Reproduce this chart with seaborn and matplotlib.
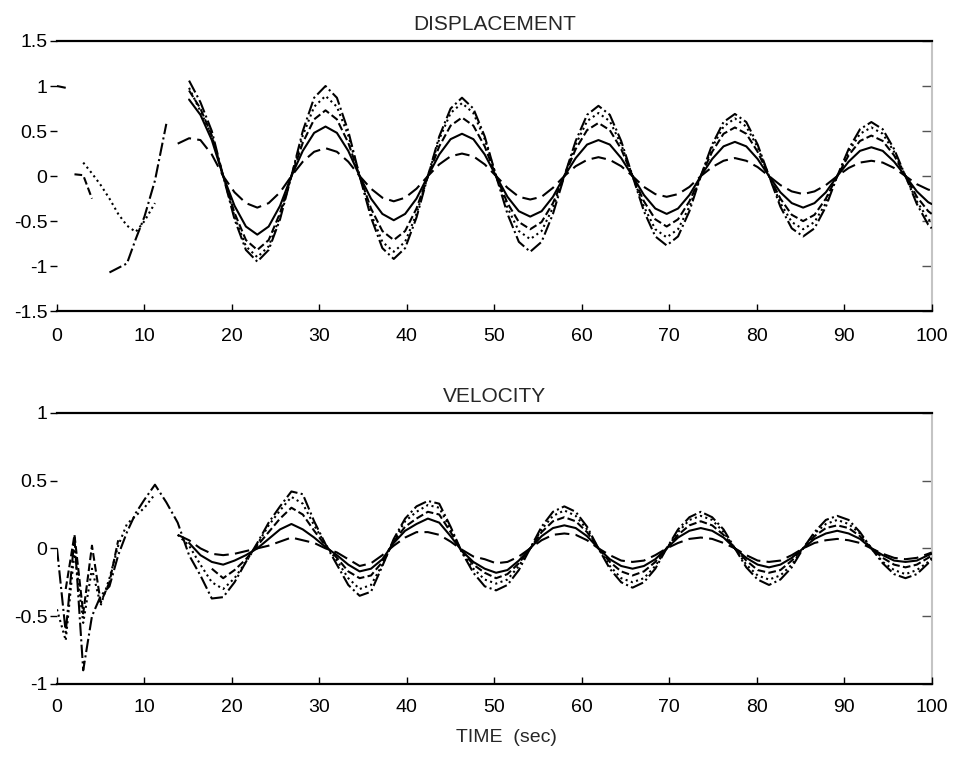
import numpy as np
import pandas as pd
import matplotlib
matplotlib.use('Agg')
import matplotlib.pyplot as plt
import seaborn as sns

nan = np.nan

# sample times (sec), shared by both panels
time = [0, 1, 2, 3, 4, 5, 6, 7, 8, 9, 10, 11.2, 12.5, 13.8, 15.1, 16.4, 17.7,
        19.0, 20.3, 21.6, 22.9, 24.2, 25.5,
        26.8, 28.1, 29.4, 30.7, 32.0, 33.3,
        34.6, 35.9, 37.2, 38.5, 39.8, 41.1,
        42.4, 43.7, 45.0, 46.3, 47.6, 48.9,
        50.2, 51.5, 52.8, 54.1, 55.4, 56.7,
        58.0, 59.3, 60.6, 61.9, 63.2, 64.5,
        65.8, 67.1, 68.4, 69.7, 71.0, 72.3,
        73.6, 74.9, 76.2, 77.5, 78.8, 80.1,
        81.4, 82.7, 84.0, 85.3, 86.6, 87.9,
        89.2, 90.5, 91.8, 93.1, 94.4, 95.7,
        97.0, 98.3, 99.6, 100.0]

# displacement, five curves (largest amplitude first)
disp_a = [1.0, 0.98, nan, nan, nan, nan, -1.07, -1.02, -0.97, -0.70, -0.45, -0.05, 0.58, nan, 1.06, 0.82, 0.50,
          0, -0.48, -0.82, -0.95, -0.82, -0.48,
          0, 0.50, 0.87, 1.00, 0.87, 0.50,
          0, -0.46, -0.80, -0.92, -0.80, -0.46,
          0, 0.44, 0.75, 0.87, 0.75, 0.44,
          0, -0.42, -0.73, -0.84, -0.73, -0.42,
          0, 0.39, 0.68, 0.78, 0.68, 0.39,
          0, -0.39, -0.67, -0.77, -0.67, -0.39,
          0, 0.35, 0.60, 0.69, 0.60, 0.35,
          0, -0.34, -0.58, -0.67, -0.58, -0.34,
          0, 0.30, 0.52, 0.60, 0.52, 0.30,
          0, -0.31, -0.54, -0.58]
disp_b = [nan, nan, nan, 0.15, 0.03, -0.10, -0.25, -0.42, -0.55, -0.62, -0.50, -0.30, nan, nan, 0.98, 0.72, 0.45,
          0, -0.45, -0.78, -0.90, -0.78, -0.45,
          0, 0.45, 0.77, 0.89, 0.77, 0.45,
          0, -0.42, -0.73, -0.84, -0.73, -0.42,
          0, 0.41, 0.70, 0.81, 0.70, 0.41,
          0, -0.35, -0.61, -0.70, -0.61, -0.35,
          0, 0.35, 0.61, 0.70, 0.61, 0.35,
          0, -0.34, -0.59, -0.68, -0.59, -0.34,
          0, 0.32, 0.55, 0.64, 0.55, 0.32,
          0, -0.30, -0.51, -0.59, -0.51, -0.30,
          0, 0.27, 0.47, 0.54, 0.47, 0.27,
          0, -0.28, -0.48, -0.51]
disp_c = [nan, nan, 0.02, 0.01, -0.25, nan, nan, nan, nan, nan, nan, nan, nan, nan, 0.95, 0.75, 0.45,
          0, -0.41, -0.71, -0.82, -0.71, -0.41,
          0, 0.37, 0.63, 0.73, 0.63, 0.37,
          0, -0.36, -0.61, -0.71, -0.61, -0.36,
          0, 0.33, 0.56, 0.65, 0.56, 0.33,
          0, -0.30, -0.51, -0.59, -0.51, -0.30,
          0, 0.30, 0.51, 0.59, 0.51, 0.30,
          0, -0.28, -0.48, -0.56, -0.48, -0.28,
          0, 0.27, 0.47, 0.54, 0.47, 0.27,
          0, -0.25, -0.43, -0.50, -0.43, -0.25,
          0, 0.23, 0.39, 0.45, 0.39, 0.23,
          0, -0.23, -0.39, -0.42]
disp_d = [nan, nan, nan, nan, nan, nan, nan, nan, nan, nan, nan, nan, nan, nan, 0.85, 0.68, 0.40,
          0, -0.33, -0.56, -0.65, -0.56, -0.33,
          0, 0.28, 0.48, 0.55, 0.48, 0.28,
          0, -0.25, -0.42, -0.49, -0.42, -0.25,
          0, 0.24, 0.41, 0.47, 0.41, 0.24,
          0, -0.23, -0.39, -0.45, -0.39, -0.23,
          0, 0.20, 0.35, 0.40, 0.35, 0.20,
          0, -0.21, -0.36, -0.42, -0.36, -0.21,
          0, 0.19, 0.33, 0.38, 0.33, 0.19,
          0, -0.18, -0.30, -0.35, -0.30, -0.18,
          0, 0.16, 0.28, 0.32, 0.28, 0.16,
          0, -0.17, -0.29, -0.31]
disp_e = [nan, nan, nan, nan, nan, nan, nan, nan, nan, nan, nan, nan, nan, 0.36, 0.42, 0.40, 0.24,
          0, -0.18, -0.30, -0.35, -0.30, -0.18,
          0, 0.16, 0.27, 0.31, 0.27, 0.16,
          0, -0.14, -0.24, -0.28, -0.24, -0.14,
          0, 0.13, 0.22, 0.25, 0.22, 0.13,
          0, -0.13, -0.23, -0.26, -0.23, -0.13,
          0, 0.11, 0.18, 0.21, 0.18, 0.11,
          0, -0.12, -0.20, -0.23, -0.20, -0.12,
          0, 0.10, 0.17, 0.20, 0.17, 0.10,
          0, -0.10, -0.17, -0.20, -0.17, -0.10,
          0, 0.09, 0.15, 0.17, 0.15, 0.09,
          0, -0.09, -0.15, -0.16]

# velocity, five curves
vel_a = [0.0, -0.62, 0.08, -0.90, -0.50, -0.35, -0.28, -0.05, 0.12, 0.26, 0.36, 0.47, 0.34, 0.19, -0.05, -0.20, -0.37,
         -0.36, -0.25, -0.10, 0.04, 0.19, 0.31,
         0.42, 0.40, 0.20, 0.03, -0.12, -0.27,
         -0.35, -0.32, -0.13, 0.07, 0.22, 0.31,
         0.35, 0.33, 0.16, -0.03, -0.18, -0.28,
         -0.31, -0.27, -0.16, 0, 0.16, 0.27,
         0.31, 0.27, 0.16, 0, -0.15, -0.25,
         -0.29, -0.25, -0.15, 0, 0.14, 0.23,
         0.27, 0.23, 0.14, 0, -0.14, -0.23,
         -0.27, -0.23, -0.14, 0, 0.12, 0.21,
         0.24, 0.21, 0.12, 0, -0.11, -0.19,
         -0.22, -0.19, -0.11, -0.08]
vel_b = [-0.45, -0.68, -0.02, -0.55, -0.15, -0.42, -0.22, 0.02, 0.18, 0.24, 0.30, 0.40, nan, 0.10, 0.02, -0.12, -0.25,
         -0.30, -0.22, -0.10, 0.03, 0.17, 0.28,
         0.38, 0.33, 0.17, 0.03, -0.09, -0.22,
         -0.30, -0.27, -0.12, 0.06, 0.20, 0.27,
         0.32, 0.30, 0.14, -0.03, -0.15, -0.23,
         -0.26, -0.23, -0.13, 0, 0.14, 0.24,
         0.28, 0.24, 0.14, 0, -0.13, -0.22,
         -0.25, -0.22, -0.13, 0, 0.12, 0.21,
         0.24, 0.21, 0.12, 0, -0.12, -0.20,
         -0.23, -0.20, -0.12, 0, 0.11, 0.18,
         0.21, 0.18, 0.11, 0, -0.10, -0.16,
         -0.19, -0.16, -0.10, -0.07]
vel_c = [nan, -0.30, 0.10, -0.48, 0.02, -0.40, -0.25, 0.06, nan, nan, nan, nan, nan, nan, nan, nan, -0.15,
         -0.22, -0.16, -0.08, 0.02, 0.12, 0.22,
         0.30, 0.25, 0.13, 0.02, -0.07, -0.17,
         -0.22, -0.20, -0.10, 0.05, 0.16, 0.22,
         0.27, 0.25, 0.12, -0.02, -0.12, -0.18,
         -0.22, -0.19, -0.11, 0, 0.12, 0.20,
         0.23, 0.20, 0.12, 0, -0.10, -0.17,
         -0.20, -0.17, -0.10, 0, 0.10, 0.17,
         0.20, 0.17, 0.10, 0, -0.09, -0.16,
         -0.18, -0.16, -0.09, 0, 0.09, 0.15,
         0.17, 0.15, 0.09, 0, -0.07, -0.12,
         -0.14, -0.12, -0.07, -0.05]
vel_d = [nan, nan, nan, nan, nan, nan, nan, nan, nan, nan, nan, nan, nan, nan, 0.04, -0.05, -0.10,
         -0.12, -0.09, -0.05, 0.0, 0.07, 0.14,
         0.18, 0.14, 0.08, 0.01, -0.05, -0.12,
         -0.17, -0.15, -0.08, 0.04, 0.13, 0.18,
         0.22, 0.19, 0.09, -0.02, -0.10, -0.15,
         -0.18, -0.16, -0.09, 0, 0.09, 0.15,
         0.17, 0.15, 0.09, 0, -0.08, -0.13,
         -0.15, -0.13, -0.08, 0, 0.08, 0.13,
         0.15, 0.13, 0.08, 0, -0.07, -0.12,
         -0.14, -0.12, -0.07, 0, 0.07, 0.11,
         0.13, 0.11, 0.07, 0, -0.05, -0.09,
         -0.10, -0.09, -0.05, -0.04]
vel_e = [nan, nan, nan, nan, nan, nan, nan, nan, nan, nan, nan, nan, nan, 0.10, 0.06, 0.0, -0.04,
         -0.05, -0.04, -0.02, 0.0, 0.02, 0.05,
         0.08, 0.06, 0.04, 0.0, -0.03, -0.08,
         -0.13, -0.11, -0.05, 0.02, 0.08, 0.12,
         0.12, 0.10, 0.05, -0.01, -0.06, -0.08,
         -0.11, -0.10, -0.06, 0, 0.06, 0.10,
         0.11, 0.10, 0.06, 0, -0.05, -0.09,
         -0.10, -0.09, -0.05, 0, 0.04, 0.07,
         0.08, 0.07, 0.04, 0, -0.05, -0.09,
         -0.10, -0.09, -0.05, 0, 0.04, 0.06,
         0.07, 0.06, 0.04, 0, -0.04, -0.07,
         -0.08, -0.07, -0.04, -0.03]

x_ticks = [0, 10, 20, 30, 40, 50, 60, 70, 80, 90, 100]
disp_ticks = [1.5, 1, 0.5, 0, -0.5, -1, -1.5]
disp_labels = ['1.5', '1', '0.5', '0', '-0.5', '-1', '-1.5']
vel_ticks = [1, 0.5, 0, -0.5, -1]
vel_labels = ['1', '0.5', '0', '-0.5', '-1']
line_styles = ['-.', ':', '--', '-', (0, (7, 3))]

sns.set_theme(style='white')
plt.rcParams['font.family'] = ['Liberation Sans', 'DejaVu Sans']


def draw_panel(ax, curves, title, ylim, ticks, labels, xpad):
    for vals, ls in zip(curves, line_styles):
        df = pd.DataFrame({'t': time, 'v': vals})
        # break the line where the trace is missing
        df['seg'] = df['v'].isna().cumsum()
        df = df.dropna()
        sns.lineplot(data=df, x='t', y='v', units='seg', estimator=None,
                     color='black', lw=1.5, linestyle=ls, ax=ax)
    ax.set_xlim(0, 100)
    ax.set_ylim(*ylim)
    ax.set_xticks(x_ticks)
    ax.set_xticklabels([str(x) for x in x_ticks])
    ax.set_yticks(ticks)
    ax.set_yticklabels(labels)
    ax.set_xlabel('')
    ax.set_ylabel('')
    ax.set_title(title, fontsize=15, pad=8)
    ax.tick_params(axis='x', direction='in', length=5, width=1, pad=xpad,
                   labelsize=14, bottom=True, top=False, colors='black')
    ax.tick_params(axis='y', direction='out', length=5, width=1, pad=2,
                   labelsize=14, left=True, right=False, colors='black')
    for side in ['top', 'bottom']:
        ax.spines[side].set_color('black')
        ax.spines[side].set_linewidth(1.6)
    ax.spines['left'].set_visible(False)
    ax.spines['right'].set_visible(False)
    sec = ax.secondary_yaxis('right')
    sec.set_yticks(ticks)
    sec.tick_params(direction='in', length=7, width=1, labelright=False, colors='#555555')
    sec.spines['right'].set_color('#c4c4c4')
    sec.spines['right'].set_linewidth(1.5)


fig = plt.figure(figsize=(9.56, 7.59), dpi=100)
ax1 = fig.add_axes([0.0596, 0.590, 0.915, 0.356])
ax2 = fig.add_axes([0.0596, 0.099, 0.915, 0.357])

draw_panel(ax1, [disp_a, disp_b, disp_c, disp_d, disp_e], 'DISPLACEMENT',
           (-1.5, 1.5), disp_ticks, disp_labels, 12)
draw_panel(ax2, [vel_a, vel_b, vel_c, vel_d, vel_e], 'VELOCITY',
           (-1, 1), vel_ticks, vel_labels, 11)

fig.text(0.53, 1 - 737 / 759, 'TIME  (sec)', ha='center', va='center', fontsize=14)

fig.savefig('out.png', dpi=100, facecolor='white')
